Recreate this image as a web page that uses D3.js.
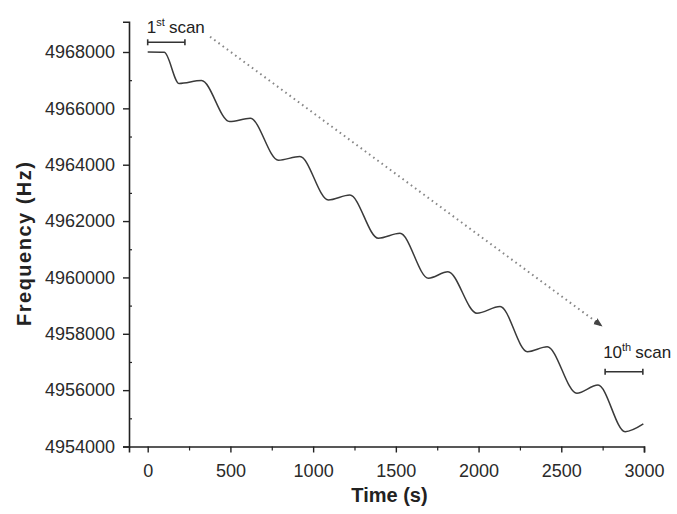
<!DOCTYPE html>
<html><head><meta charset="utf-8">
<script src="https://cdn.jsdelivr.net/npm/d3@7"></script>
<style>
body{margin:0;background:#fff}
svg{display:block}
text{font-family:"Liberation Sans",Arial,sans-serif}
</style>
</head><body>
<svg id="chart" width="677" height="514"></svg>
<script>
// ---- data ----
const timeS = [0, 100, 190, 325, 495, 620, 790, 920, 1092, 1222, 1394, 1525, 1697, 1815, 1990, 2130, 2295, 2415, 2594, 2722, 2886, 2996];
const freqHz = [4968000, 4967990, 4966880, 4966985, 4965530, 4965650, 4964160, 4964290, 4962750, 4962925, 4961390, 4961565, 4959970, 4960200, 4958730, 4958970, 4957365, 4957540, 4955890, 4956180, 4954525, 4954800];
const xTicks = [0, 500, 1000, 1500, 2000, 2500, 3000];
const xMinorTicks = [250, 750, 1250, 1750, 2250, 2750];
const yTicks = [4954000, 4956000, 4958000, 4960000, 4962000, 4964000, 4966000, 4968000];
const yMinorTicks = [4955000, 4957000, 4959000, 4961000, 4963000, 4965000, 4967000];
const scanNames = ["1", "10"];
const scanSup = ["st", "th"];
const scanStart = [0, 2765];
const scanEnd = [225, 2993];
const scanBarFreq = [4968344, 4956654];
const scanLabelTime = [-5, 2753];
const scanLabelFreq = [4968663, 4957130];
const arrowTime = [377, 2745];
const arrowFreq = [4968542, 4958276];

const svg = d3.select("#chart");
const x = d3.scaleLinear().domain([-113, 3000]).range([129, 644]);
const y = d3.scaleLinear().domain([4954000, 4969075]).range([446.5, 21.7]);
const axisColor = "#222";

// arrow marker
svg.append("defs").append("marker")
  .attr("id", "ah").attr("viewBox", "0 0 10 10").attr("refX", 9).attr("refY", 5)
  .attr("markerWidth", 9).attr("markerHeight", 9).attr("markerUnits", "userSpaceOnUse")
  .attr("orient", "auto")
  .append("path").attr("d", "M0,1 L10,5 L0,9 Z").attr("fill", "#444");

// x axis
const gx = svg.append("g").attr("transform", `translate(0,${y.range()[0]})`)
  .call(d3.axisBottom(x).tickValues(xTicks).tickSize(6).tickPadding(12).tickFormat(d3.format("d")));
gx.select(".domain").attr("stroke", axisColor).attr("stroke-width", 1.6);
gx.selectAll(".tick line").attr("stroke", axisColor).attr("stroke-width", 1.4);
gx.selectAll(".tick text").attr("font-size", 18).attr("fill", "#2a2a2a")
  .attr("font-family", "'Liberation Sans', Arial, sans-serif");
svg.append("g").attr("transform", `translate(0,${y.range()[0]})`)
  .call(d3.axisBottom(x).tickValues(xMinorTicks).tickSize(4).tickFormat(""))
  .call(g => g.select(".domain").remove())
  .selectAll(".tick line").attr("stroke", axisColor).attr("stroke-width", 1.2);

// y axis
const gy = svg.append("g").attr("transform", `translate(${x.range()[0]},0)`)
  .call(d3.axisLeft(y).tickValues(yTicks).tickSize(6).tickPadding(8).tickFormat(d3.format("d")));
gy.select(".domain").attr("stroke", axisColor).attr("stroke-width", 1.6);
gy.selectAll(".tick line").attr("stroke", axisColor).attr("stroke-width", 1.4);
gy.selectAll(".tick text").attr("font-size", 18).attr("fill", "#2a2a2a")
  .attr("font-family", "'Liberation Sans', Arial, sans-serif");
svg.append("g").attr("transform", `translate(${x.range()[0]},0)`)
  .call(d3.axisRight(y).tickValues(yMinorTicks).tickSize(3).tickFormat(""))
  .call(g => g.select(".domain").remove())
  .selectAll(".tick line").attr("stroke", axisColor).attr("stroke-width", 1.2);

// axis titles
svg.append("text").attr("x", 389.5).attr("y", 502).attr("text-anchor", "middle")
  .attr("font-size", 20).attr("font-weight", "bold").attr("fill", "#222").text("Time (s)");
svg.append("text").attr("transform", "translate(31,244) rotate(-90)").attr("text-anchor", "middle")
  .attr("font-size", 20).attr("font-weight", "bold").attr("fill", "#222")
  .attr("textLength", 164).attr("lengthAdjust", "spacing").text("Frequency (Hz)");

// dotted arrow
svg.append("line")
  .attr("x1", x(arrowTime[0])).attr("y1", y(arrowFreq[0]))
  .attr("x2", x(arrowTime[1])).attr("y2", y(arrowFreq[1]))
  .attr("stroke", "#888").attr("stroke-width", 2).attr("stroke-dasharray", "1.6,3.6")
  .attr("marker-end", "url(#ah)");

// data line
const line = d3.line().x((d, i) => x(timeS[i])).y((d, i) => y(freqHz[i])).curve(d3.curveMonotoneX);
svg.append("path").datum(timeS).attr("d", line)
  .attr("fill", "none").attr("stroke", "#3a3a3a").attr("stroke-width", 1.5);

// scan annotations
scanNames.forEach((n, i) => {
  const yb = y(scanBarFreq[i]);
  const x0 = x(scanStart[i]), x1 = x(scanEnd[i]);
  const g = svg.append("g").attr("stroke", "#333").attr("stroke-width", 1.6);
  g.append("line").attr("x1", x0).attr("x2", x1).attr("y1", yb).attr("y2", yb);
  g.append("line").attr("x1", x0).attr("x2", x0).attr("y1", yb - 3).attr("y2", yb + 3);
  g.append("line").attr("x1", x1).attr("x2", x1).attr("y1", yb - 3).attr("y2", yb + 3);
  const t = svg.append("text").attr("x", x(scanLabelTime[i])).attr("y", y(scanLabelFreq[i]))
    .attr("font-size", 17).attr("fill", "#222");
  t.append("tspan").text(n);
  t.append("tspan").attr("font-size", 11).attr("dy", -7).text(scanSup[i]);
  t.append("tspan").attr("dy", 7).attr("dx", 4).text("scan");
});
</script>
</body></html>
